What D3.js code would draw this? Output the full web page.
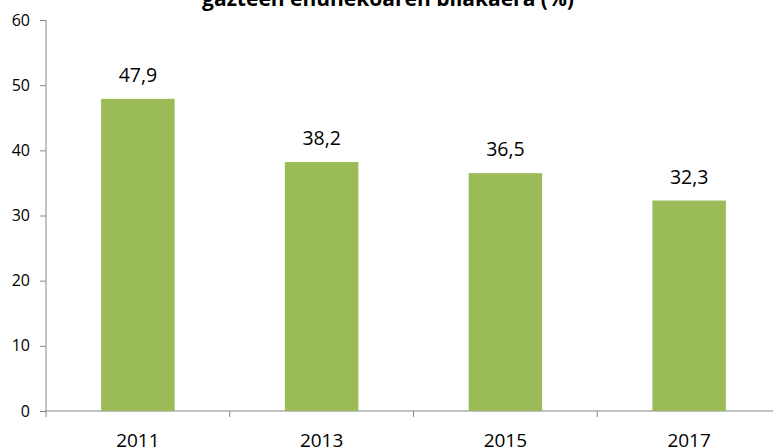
<!DOCTYPE html>
<html><head><meta charset="utf-8">
<script src="https://cdn.jsdelivr.net/npm/d3@7"></script>
<style>body{margin:0;background:#fff}svg{display:block}</style>
</head><body>
<script>
const categories = ["2011","2013","2015","2017"];
const values = [47.9, 38.2, 36.5, 32.3];
const yTicks = [0,10,20,30,40,50,60];
const title = "gazteen ehunekoaren bilakaera (%)";

const W = 773, H = 448;
const font = "'Open Sans',Arial,sans-serif";
const svg = d3.select("body").append("svg").attr("width",W).attr("height",H);

const x = d3.scaleBand().domain(categories).range([46,781]).paddingInner(0.6).paddingOuter(0.3);
const y = d3.scaleLinear().domain([0,60]).range([411,20]);

// title
svg.append("text").attr("x",388).attr("y",6).attr("text-anchor","middle")
  .style("font-family",font).style("font-weight","bold").style("font-size","21px").attr("fill","#000").text(title);

// y axis
const ya = svg.append("g").attr("transform","translate(46,0)").call(d3.axisLeft(y).tickValues(yTicks).tickSize(6).tickPadding(10));
ya.select(".domain").attr("stroke","#868686").attr("d","M0,"+y(60)+"V"+y(0));
ya.selectAll(".tick line").attr("stroke","#868686");
ya.selectAll(".tick text").style("font-family",font).style("font-size","16px").attr("fill","#000");

// x axis
const step = x.step();
const xa = svg.append("g").attr("transform","translate(0,"+y(0)+")");
xa.append("line").attr("x1",46).attr("x2",W).attr("y1",0).attr("y2",0).attr("stroke","#868686");
const tickPos = d3.range(categories.length+1).map(i => 46 + i*step);
xa.selectAll("line.t").data(tickPos).enter().append("line").attr("class","t")
  .attr("x1",d=>d).attr("x2",d=>d).attr("y1",0).attr("y2",6).attr("stroke","#868686");
xa.selectAll("text").data(categories).enter().append("text")
  .attr("x",d=>x(d)+x.bandwidth()/2).attr("y",36).attr("text-anchor","middle")
  .style("font-family",font).style("font-size","19px").attr("fill","#000").text(d=>d);

// bars
svg.selectAll("rect.bar").data(values).enter().append("rect").attr("class","bar")
  .attr("x",(d,i)=>x(categories[i])).attr("width",x.bandwidth())
  .attr("y",d=>y(d)).attr("height",d=>y(0)-y(d)).attr("fill","#9BBB59");

// labels
svg.selectAll("text.lbl").data(values).enter().append("text").attr("class","lbl")
  .attr("x",(d,i)=>x(categories[i])+x.bandwidth()/2).attr("y",d=>y(d)-17)
  .attr("text-anchor","middle").style("font-family",font).style("font-size","19.5px").attr("fill","#000")
  .text(d=>d3.format(".1f")(d).replace(".",","));
</script>
</body></html>
